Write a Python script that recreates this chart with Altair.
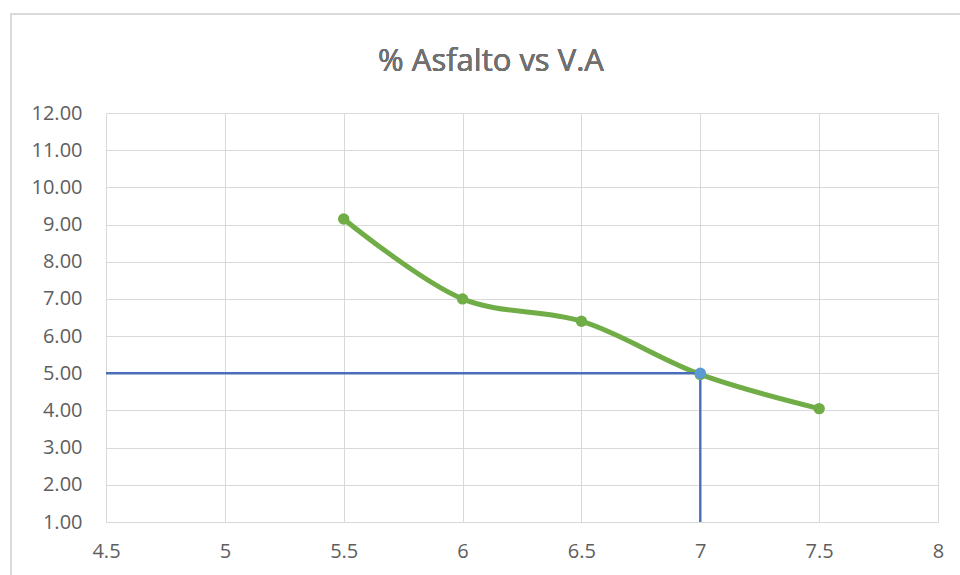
import altair as alt
import pandas as pd

# Asphalt content (%) against air voids (V.A)
asfalto = [5.5, 6.0, 6.5, 7.0, 7.5]
va = [9.15, 7.0, 6.4, 4.97, 4.05]

# Design point
design_asfalto = 7.0
design_va = 5.0

x_ticks = [4.5, 5, 5.5, 6, 6.5, 7, 7.5, 8]
y_ticks = [1, 2, 3, 4, 5, 6, 7, 8, 9, 10, 11, 12]

title_text = "% Asfalto vs V.A"

GREEN = "#70AD47"
BLUE_LINE = "#4A6FB8"
BLUE_POINT = "#5B9BD5"
TEXT = "#5E5E5E"
GRID = "#D9D9D9"
FONT = "Open Sans"

curve = pd.DataFrame({"asfalto": asfalto, "va": va})
design = pd.DataFrame({
    "x0": [x_ticks[0]], "x1": [design_asfalto],
    "y0": [y_ticks[0]], "y1": [design_va],
})

x_scale = alt.Scale(domain=[x_ticks[0], x_ticks[-1]], nice=False, zero=False)
y_scale = alt.Scale(domain=[y_ticks[0], y_ticks[-1]], nice=False, zero=False)

x_axis = alt.Axis(values=x_ticks, format="~g", title=None, domain=False, ticks=False,
                  grid=True, gridColor=GRID, gridWidth=1, labelOverlap=False,
                  labelFlush=False, labelBound=False,
                  labelFont=FONT, labelFontSize=20, labelColor=TEXT, labelPadding=19)
y_axis = alt.Axis(values=y_ticks, format=".2f", title=None, domain=False, ticks=False,
                  grid=True, gridColor=GRID, gridWidth=1, labelOverlap=False,
                  labelFlush=False, labelBound=False,
                  labelFont=FONT, labelFontSize=20, labelColor=TEXT, labelPadding=24)


def X(field):
    return alt.X(field, type="quantitative", scale=x_scale, axis=x_axis)


def Y(field):
    return alt.Y(field, type="quantitative", scale=y_scale, axis=y_axis)


base = alt.Chart(curve)

# outer chart frame
frame = base.mark_rect(fill=None, stroke=GRID, strokeWidth=1.5).encode(
    x=alt.value(-95), x2=alt.value(870), y=alt.value(-99), y2=alt.value(480)
)

# chart title, centred over the frame
title = base.mark_text(font=FONT, fontSize=31, color="#707070", align="center",
                       baseline="alphabetic").encode(
    x=alt.value(385), y=alt.value(-42), text=alt.value(title_text)
)

line = base.mark_line(color=GREEN, strokeWidth=5, interpolate="catmull-rom").encode(
    x=X("asfalto"), y=Y("va"),
)
points = base.mark_circle(color=GREEN, size=130, opacity=1).encode(
    x=X("asfalto"), y=Y("va"),
)

d = alt.Chart(design)
h_rule = d.mark_rule(color=BLUE_LINE, strokeWidth=2.4).encode(
    x=X("x0"), x2="x1:Q", y=Y("y1"),
)
v_rule = d.mark_rule(color=BLUE_LINE, strokeWidth=2.4).encode(
    x=X("x1"), y=Y("y0"), y2="y1:Q",
)
d_point = d.mark_circle(color=BLUE_POINT, size=130, opacity=1).encode(
    x=X("x1"), y=Y("y1"),
)

chart = alt.layer(line, frame, title, h_rule, v_rule, points, d_point).properties(
    width=832,
    height=409,
    autosize=alt.AutoSizeParams(type="none"),
    padding={"left": 106, "top": 113, "right": 22, "bottom": 53},
).configure(
    background="white",
    view=alt.ViewConfig(stroke=None),
)

chart.save("out.html", embed_options={"renderer": "svg", "actions": False})
